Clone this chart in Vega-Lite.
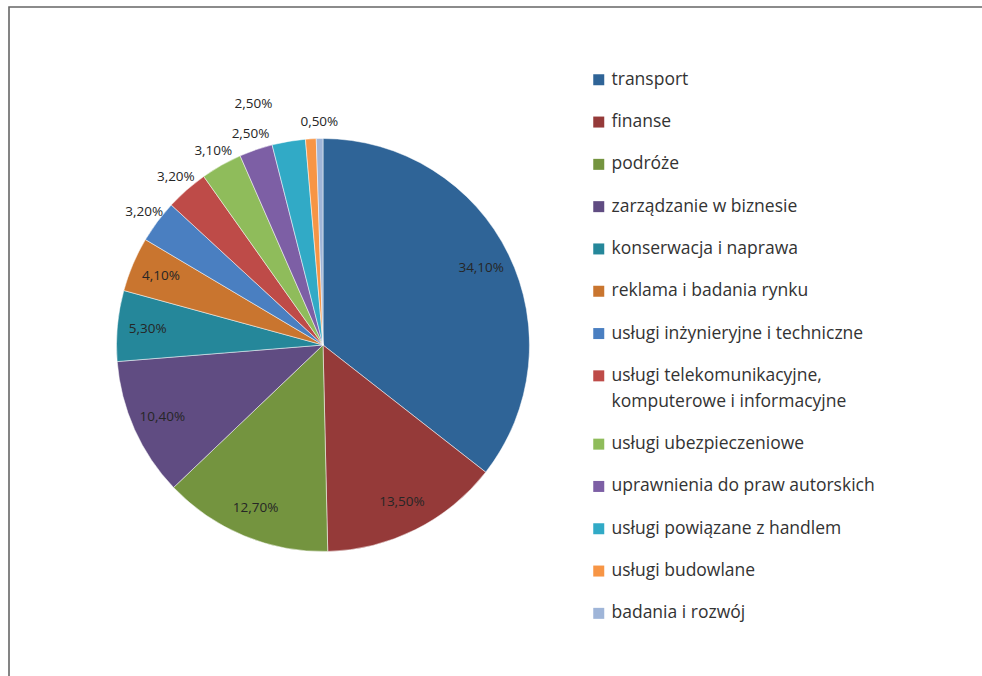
{
  "$schema": "https://vega.github.io/schema/vega-lite/v6.json",
  "autosize": "none",
  "width": 1000,
  "height": 700,
  "padding": {"left": 9, "top": 7, "right": 0, "bottom": 0},
  "background": "white",
  "config": {
    "view": {"stroke": "#666666", "strokeWidth": 1.6},
    "locale": {"number": {"decimal": ",", "thousands": " ", "grouping": [3], "currency": ["", " zł"]}},
    "font": "Open Sans",
    "style": {"guide-label": {"lineHeight": 26}}
  },
  "data": {
    "values": [
      {"i": 1, "kat": "transport", "v": 0.341},
      {"i": 2, "kat": "finanse", "v": 0.135},
      {"i": 3, "kat": "podróże", "v": 0.127},
      {"i": 4, "kat": "zarządzanie w biznesie", "v": 0.104},
      {"i": 5, "kat": "konserwacja i naprawa", "v": 0.053},
      {"i": 6, "kat": "reklama i badania rynku", "v": 0.041},
      {"i": 7, "kat": "usługi inżynieryjne i techniczne", "v": 0.032},
      {"i": 8, "kat": "usługi telekomunikacyjne, komputerowe i informacyjne", "v": 0.032},
      {"i": 9, "kat": "usługi ubezpieczeniowe", "v": 0.031},
      {"i": 10, "kat": "uprawnienia do praw autorskich", "v": 0.025},
      {"i": 11, "kat": "usługi powiązane z handlem", "v": 0.025},
      {"i": 12, "kat": "usługi budowlane", "v": 0.008},
      {"i": 13, "kat": "badania i rozwój", "v": 0.005}
    ]
  },
  "encoding": {
    "theta": {"field": "v", "type": "quantitative", "stack": true},
    "order": {"field": "i", "type": "quantitative"},
    "x": {"value": 314},
    "y": {"value": 338}
  },
  "layer": [
    {
      "mark": {"type": "arc", "outerRadius": 206.5, "stroke": "white", "strokeWidth": 0.5},
      "encoding": {
        "color": {
          "field": "kat",
          "type": "nominal",
          "scale": {
            "domain": ["transport", "finanse", "podróże", "zarządzanie w biznesie", "konserwacja i naprawa", "reklama i badania rynku", "usługi inżynieryjne i techniczne", "usługi telekomunikacyjne, komputerowe i informacyjne", "usługi ubezpieczeniowe", "uprawnienia do praw autorskich", "usługi powiązane z handlem", "usługi budowlane", "badania i rozwój"],
            "range": ["#2f6497", "#953a39", "#74943f", "#604c82", "#25879a", "#c9752f", "#4a7fc1", "#be4b48", "#8fbc5b", "#7d5fa5", "#31aac6", "#f79545", "#9fb5d8"]
          },
          "legend": {
            "orient": "none",
            "legendX": 581,
            "legendY": 64,
            "title": null,
            "symbolType": "square",
            "symbolSize": 121,
            "symbolStrokeWidth": 0,
            "labelFontSize": 17.5,
            "labelColor": "#333333",
            "rowPadding": 23.3,
            "labelOffset": 4,
            "labelLimit": 400,
            "labelBaseline": "middle",
            "labelExpr": "datum.label == 'usługi telekomunikacyjne, komputerowe i informacyjne' ? ['usługi telekomunikacyjne,', 'komputerowe i informacyjne'] : datum.label"
          }
        }
      }
    },
    {
      "mark": {"type": "text", "radius": 176, "fontSize": 13.5, "color": "#262626"},
      "encoding": {
        "text": {"condition": {"test": "datum.v >= 0.04", "field": "v", "type": "quantitative", "format": ".2%"}, "value": ""}
      }
    },
    {
      "mark": {"type": "text", "radius": 223, "fontSize": 13.5, "color": "#262626"},
      "encoding": {
        "text": {"condition": {"test": "datum.v < 0.04 && datum.kat != 'usługi powiązane z handlem' && datum.kat != 'usługi budowlane'", "field": "v", "type": "quantitative", "format": ".2%"}, "value": ""}
      }
    },
    {
      "mark": {"type": "text", "radius": 250, "fontSize": 13.5, "color": "#262626", "dx": -28, "dy": 6},
      "encoding": {
        "text": {"condition": {"test": "datum.kat == 'usługi powiązane z handlem'", "field": "v", "type": "quantitative", "format": ".2%"}, "value": ""}
      }
    }
  ]
}
